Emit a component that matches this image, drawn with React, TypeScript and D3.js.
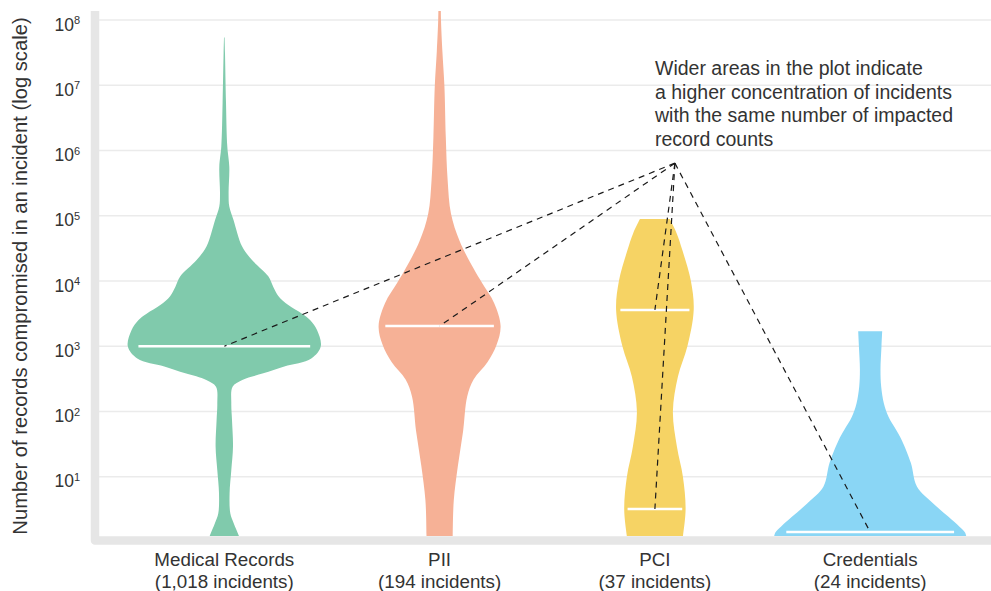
import React from "react";
import * as d3 from "d3";

// Data categories and incident counts
const categories = ["Medical Records", "PII", "PCI", "Credentials"];
const incidentCounts = ["1,018", "194", "37", "24"];
const palette = ["#80caac", "#f6b196", "#f6d364", "#8ad6f5"];

// Kernel density profiles: [records compromised, relative density]
const medicalDensity: [number, number][] = [
  [5.4e7, 0.003], [3.1e7, 0.007], [5.4e6, 0.017], [1.15e6, 0.03], [5.6e5, 0.05],
  [2.2e5, 0.043], [1.38e5, 0.05], [8.5e4, 0.093], [3.4e4, 0.177], [2.1e4, 0.277],
  [1.18e4, 0.44], [8100, 0.49], [5900, 0.54], [4270, 0.64], [3160, 0.777],
  [2510, 0.86], [1780, 0.927], [1000, 0.965], [650, 0.87], [490, 0.6],
  [385, 0.39], [305, 0.18], [240, 0.083], [133, 0.07], [74, 0.077],
  [29, 0.087], [12.6, 0.07], [5.6, 0.053], [2.75, 0.06], [1.95, 0.093],
  [1.2, 0.15], [1, 0.17],
];
const piiDensity: [number, number][] = [
  [1.58e8, 0.012], [1e8, 0.014], [3.3e7, 0.028], [9.8e6, 0.048], [1.6e6, 0.062],
  [3.6e5, 0.08], [1.07e5, 0.114], [4.1e4, 0.2], [1.55e4, 0.34], [9300, 0.425],
  [4570, 0.546], [2040, 0.61], [1050, 0.57], [575, 0.48], [310, 0.34],
  [170, 0.276], [50, 0.235], [14.8, 0.183], [4.4, 0.142], [1.26, 0.131], [1, 0.13],
];
const pciDensity: [number, number][] = [
  [8.9e4, 0.15], [5.4e4, 0.217], [2.95e4, 0.275], [1e4, 0.36], [3600, 0.388],
  [1000, 0.325], [340, 0.23], [100, 0.18], [29, 0.22], [10, 0.28],
  [3.2, 0.307], [1.2, 0.28], [1, 0.275],
];
const credentialsDensity: [number, number][] = [
  [1700, 0.12], [1000, 0.113], [437, 0.103], [240, 0.11], [133, 0.137],
  [83, 0.183], [52, 0.26], [36, 0.317], [16.2, 0.407], [7.1, 0.467],
  [3.9, 0.63], [2.45, 0.78], [1.72, 0.893], [1.38, 0.95], [1, 0.97],
];
const densities = [medicalDensity, piiDensity, pciDensity, credentialsDensity];

// Peaks of each distribution, marked with a white line
const medicalModes = [1000];
const piiModes = [2040];
const pciModes = [3600, 3.2];
const credentialsModes = [1.42];
const modes = [medicalModes, piiModes, pciModes, credentialsModes];

const yTickExponents = [1, 2, 3, 4, 5, 6, 7, 8];

const noteLines = [
  "Wider areas in the plot indicate",
  "a higher concentration of incidents",
  "with the same number of impacted",
  "record counts",
];

const W = 991;
const H = 591;
const FONT = "'Liberation Sans', Arial, Helvetica, sans-serif";
const TEXT = "#333333";
const plotTop = 11;
const plotBottom = 536;
const axisX = 95;

function densityAt(profile: [number, number][], v: number) {
  const lv = Math.log10(v);
  const pts = profile.map(([r, d]) => [Math.log10(r), d]).sort((a, b) => a[0] - b[0]);
  for (let i = 0; i < pts.length - 1; i++) {
    const [l0, d0] = pts[i];
    const [l1, d1] = pts[i + 1];
    if (lv >= l0 && lv <= l1) return d0 + ((lv - l0) / (l1 - l0)) * (d1 - d0);
  }
  return pts[pts.length - 1][1];
}

export default function App() {
  const y = d3.scaleLog().domain([1, 1e8]).range([542, 20]);
  const x = d3.scalePoint<string>().domain(categories).range([224.3, 870.2]);
  const w = d3.scaleLinear().domain([0, 1]).range([0, 100]);

  const anchor = { x: (x("PCI") as number) + 20, y: y(6.4e5) };

  return (
    <svg width={W} height={H} style={{ position: "absolute", left: 0, top: 0 }} fontFamily={FONT}>
      <defs>
        <clipPath id="plot-clip">
          <rect x={axisX} y={plotTop} width={W - axisX} height={plotBottom - plotTop} />
        </clipPath>
      </defs>

      {/* gridlines */}
      {yTickExponents.map((e) => (
        <line key={e} x1={99} x2={W} y1={y(10 ** e)} y2={y(10 ** e)} stroke="#ebebeb" strokeWidth={1.6} />
      ))}

      {/* violins */}
      <g clipPath="url(#plot-clip)">
        {categories.map((c, i) => {
          const cx = x(c) as number;
          const area = d3
            .area<[number, number]>()
            .y((d) => y(d[0]))
            .x0((d) => cx - w(d[1]))
            .x1((d) => cx + w(d[1]))
            .curve(d3.curveCatmullRom.alpha(0.5));
          return <path key={c} d={area(densities[i]) || ""} fill={palette[i]} />;
        })}
        {categories.map((c, i) => {
          const cx = x(c) as number;
          return modes[i].map((m, j) => {
            const half = w(densityAt(densities[i], m)) * 0.89;
            return (
              <line key={c + j} x1={cx - half} x2={cx + half} y1={y(m)} y2={y(m)} stroke="#fff" strokeWidth={2.6} />
            );
          });
        })}
      </g>

      {/* annotation leader lines */}
      {categories.map((c, i) =>
        modes[i].map((m, j) => (
          <line
            key={"n" + c + j}
            x1={anchor.x}
            y1={anchor.y}
            x2={x(c) as number}
            y2={y(m)}
            stroke="#1a1a1a"
            strokeWidth={1.2}
            strokeDasharray="6,5"
          />
        ))
      )}

      {/* axes */}
      <path
        d={`M${axisX},${plotTop} V540.5 H${W}`}
        fill="none"
        stroke="#e6e6e6"
        strokeWidth={8.5}
        strokeLinejoin="round"
      />

      {/* y tick labels */}
      {yTickExponents.map((e) => (
        <text key={e} x={80} y={y(10 ** e) + 10.5} textAnchor="end" fill={TEXT} fontSize={17.5}>
          10
          <tspan fontSize={11} dy={-6.5}>
            {e}
          </tspan>
        </text>
      ))}

      {/* y axis title */}
      <text
        transform={`translate(27,276) rotate(-90)`}
        textAnchor="middle"
        fill={TEXT}
        fontSize={20.2}
      >
        Number of records compromised in an incident (log scale)
      </text>

      {/* category labels */}
      {categories.map((c, i) => (
        <g key={c}>
          <text x={x(c) as number} y={566} textAnchor="middle" fill={TEXT} fontSize={18.8}>
            {c}
          </text>
          <text x={x(c) as number} y={587.5} textAnchor="middle" fill={TEXT} fontSize={18.8}>
            ({incidentCounts[i]} incidents)
          </text>
        </g>
      ))}

      {/* note */}
      <text fill={TEXT} fontSize={19.5}>
        {noteLines.map((t, i) => (
          <tspan key={i} x={655} y={75 + i * 23.5}>
            {t}
          </tspan>
        ))}
      </text>
    </svg>
  );
}
